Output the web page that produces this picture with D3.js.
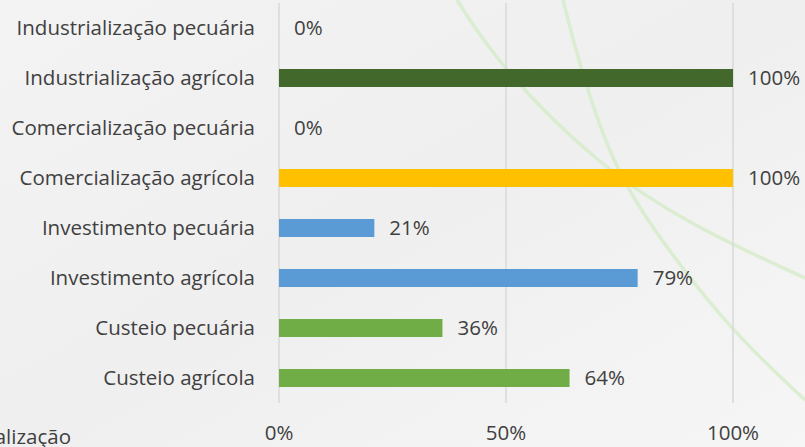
<!DOCTYPE html>
<html>
<head>
<meta charset="utf-8">
<script src="https://cdn.jsdelivr.net/npm/d3@7"></script>
<style>
  body { margin: 0; overflow: hidden; }
  text { font-family: "Open Sans", sans-serif; fill: #404040; }
</style>
</head>
<body>
<div id="chart"></div>
<script>
// categories, top to bottom
var categories = ["Industrialização pecuária", "Industrialização agrícola",
  "Comercialização pecuária", "Comercialização agrícola",
  "Investimento pecuária", "Investimento agrícola",
  "Custeio pecuária", "Custeio agrícola"];
var values = [0, 100, 0, 100, 21, 79, 36, 64];
var barColors = ["#43682b", "#43682b", "#ffc000", "#ffc000", "#5b9bd5", "#5b9bd5", "#70ad47", "#70ad47"];
var ticks = [0, 50, 100];

var width = 805, height = 447;
var plotLeft = 279, plotRight = 733, plotTop = 3, plotBottom = 403;
var fontSize = 20.5;

var svg = d3.select("#chart").append("svg")
  .attr("width", width)
  .attr("height", height);

// background
var defs = svg.append("defs");
var grad = defs.append("linearGradient").attr("id", "bg")
  .attr("x1", "0").attr("y1", "0").attr("x2", "1").attr("y2", "1");
grad.append("stop").attr("offset", "0").attr("stop-color", "#f3f3f3");
grad.append("stop").attr("offset", "0.5").attr("stop-color", "#efefef");
grad.append("stop").attr("offset", "1").attr("stop-color", "#f6f6f6");
svg.append("rect").attr("width", width).attr("height", height).attr("fill", "url(#bg)");

// faint decorative curves
var line = d3.line().curve(d3.curveBasis);
var curves = [
  [[457, 0], [500, 67], [600, 167], [690, 225], [805, 278]],
  [[563, 0], [580, 67], [613, 167], [660, 240], [733, 333], [805, 400]]
];
svg.selectAll(".deco").data(curves).enter().append("path")
  .attr("d", line)
  .attr("fill", "none")
  .attr("stroke", "#d6eccb")
  .attr("stroke-width", 3.5)
  .attr("opacity", 0.85);

var x = d3.scaleLinear().domain([0, 100]).range([plotLeft, plotRight]);
var y = d3.scaleBand().domain(categories).range([plotTop, plotBottom])
  .paddingInner(0.64).paddingOuter(0.32);

// gridlines
svg.selectAll(".grid").data(ticks).enter().append("line")
  .attr("x1", function(d) { return x(d); })
  .attr("x2", function(d) { return x(d); })
  .attr("y1", plotTop).attr("y2", plotBottom)
  .attr("stroke", "#d9d9d9")
  .attr("stroke-width", 1.5);

// x tick labels
svg.selectAll(".tick").data(ticks).enter().append("text")
  .attr("x", function(d) { return x(d); })
  .attr("y", 440)
  .attr("text-anchor", "middle")
  .attr("font-size", fontSize)
  .text(function(d) { return d + "%"; });

// category labels
svg.selectAll(".cat").data(categories).enter().append("text")
  .attr("x", 255)
  .attr("y", function(d) { return y(d) + y.bandwidth() / 2; })
  .attr("dy", "0.35em")
  .attr("text-anchor", "end")
  .attr("font-size", fontSize)
  .text(function(d) { return d; });

// bars
svg.selectAll(".bar").data(values).enter().append("rect")
  .attr("x", x(0))
  .attr("y", function(d, i) { return y(categories[i]); })
  .attr("width", function(d) { return x(d) - x(0); })
  .attr("height", y.bandwidth())
  .attr("fill", function(d, i) { return barColors[i]; });

// value labels
svg.selectAll(".val").data(values).enter().append("text")
  .attr("x", function(d) { return x(d) + 15; })
  .attr("y", function(d, i) { return y(categories[i]) + y.bandwidth() / 2; })
  .attr("dy", "0.35em")
  .attr("font-size", fontSize)
  .text(function(d) { return d + "%"; });

// cut-off legend text at bottom left
svg.append("text")
  .attr("x", 71).attr("y", 444)
  .attr("text-anchor", "end")
  .attr("font-size", fontSize)
  .text("Comercialização");
</script>
</body>
</html>
